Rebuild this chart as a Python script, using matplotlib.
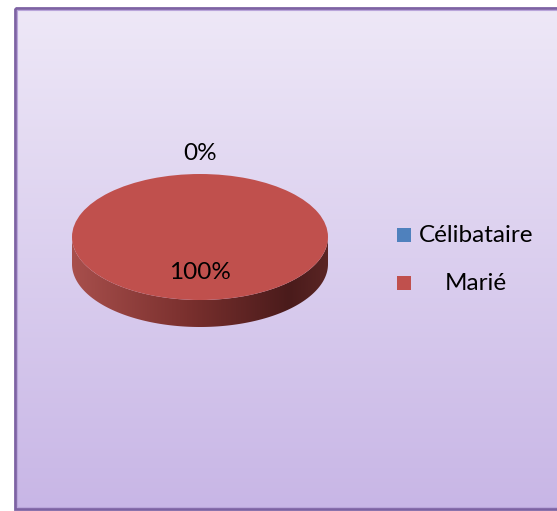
import numpy as np
import matplotlib
matplotlib.use("Agg")
import matplotlib.pyplot as plt
from matplotlib.patches import Rectangle, Polygon
from matplotlib.colors import LinearSegmentedColormap

categories = ["Célibataire", "Marié"]
values = [0, 100]
colors = ["#4f81bd", "#c0504d"]
pct_labels = ["0%", "100%"]

W, H = 557, 511
fig = plt.figure(figsize=(W / 100, H / 100), dpi=100)
fig.patch.set_facecolor("white")

# background axes in pixel coordinates
bg = fig.add_axes([0, 0, 1, 1])
bg.set_xlim(0, W)
bg.set_ylim(H, 0)
bg.axis("off")
grad = np.linspace(0, 1, 256).reshape(-1, 1)
bgcmap = LinearSegmentedColormap.from_list("bg", ["#eee8f7", "#c8b6e6"])
bg.imshow(grad, cmap=bgcmap, extent=(15, W, 509, 8), aspect="auto", zorder=0)
bg.add_patch(Rectangle((15, 8), W, 501, fill=False, edgecolor="#7d62a3", lw=2.0, zorder=2))
bg.add_patch(Rectangle((17, 10), W, 497, fill=False, edgecolor="#b9a5da", lw=0.8, zorder=2))

# pie axes: top face ellipse x 72..328 px, y 174..300 px, side to y 327
cx_l, cx_r = 72, 328
top_y, face_bot, side_bot = 174, 300, 327
depth = (side_bot - face_bot) / ((face_bot - top_y) / 2)
ax = fig.add_axes([cx_l / W, (H - side_bot) / H, (cx_r - cx_l) / W, (side_bot - top_y) / H])
ax.patch.set_alpha(0)
wedges, _ = ax.pie(values, colors=colors, startangle=90, counterclock=False,
                   radius=1, wedgeprops=dict(linewidth=0))
ax.set_aspect("auto")
ax.set_xlim(-1, 1)
ax.set_ylim(-1 - depth, 1)
ax.axis("off")
for w in wedges:
    w.set_zorder(3)

# side walls from wedge angles (visible part between 180 and 360 degrees)
sidecmap = LinearSegmentedColormap.from_list(
    "side", [(0, "#a84f4c"), (0.45, "#7a302e"), (0.85, "#4a1b1b"), (1, "#5a2524")])
for w, v in zip(wedges, values):
    if v <= 0:
        continue
    t1, t2 = sorted([w.theta1 % 360, w.theta2 % 360])
    if w.theta2 - w.theta1 >= 359.999 or abs(v - sum(values)) < 1e-9:
        t1, t2 = 180, 360
    a1, a2 = max(t1, 180), min(t2, 360)
    if a2 <= a1:
        continue
    th = np.radians(np.linspace(a1, a2, 200))
    upper = np.column_stack([np.cos(th), np.sin(th)])
    lower = np.column_stack([np.cos(th[::-1]), np.sin(th[::-1]) - depth])
    poly = Polygon(np.vstack([upper, lower]), closed=True, facecolor="none", edgecolor="none")
    ax.add_patch(poly)
    hg = np.linspace(0, 1, 256).reshape(1, -1)
    im = ax.imshow(hg, cmap=sidecmap, extent=(-1, 1, -1 - depth, 0.1), aspect="auto", zorder=2)
    im.set_clip_path(poly)

# percentage labels
for w, v, lab in zip(wedges, values, pct_labels):
    mid = np.radians((w.theta1 + w.theta2) / 2)
    dist = 1.33 if v == 0 else 0.57
    ax.text(dist * np.cos(mid), dist * np.sin(mid), lab, ha="center", va="center",
            fontsize=17.5, family=["Lato", "DejaVu Sans"], color="black", zorder=5)

# legend
leg_y = [235, 283]
for cat, col, y in zip(categories, colors, leg_y):
    bg.add_patch(Rectangle((397, y - 7), 14, 14, facecolor=col, edgecolor="none", zorder=3))
    bg.text(476, y, cat, ha="center", va="center", fontsize=17.5,
            family=["Lato", "DejaVu Sans"], color="black", zorder=3)

fig.savefig("out.png", dpi=100)
